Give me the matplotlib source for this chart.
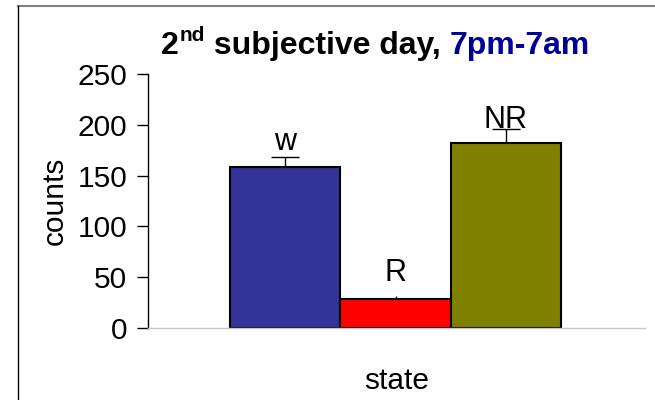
import matplotlib
matplotlib.use("Agg")
import matplotlib.pyplot as plt
from matplotlib.lines import Line2D

categories = ["w", "R", "NR"]
values = [158, 29, 182]
errors = [10, 2.5, 14]
label_values = [175, 46, 197]
colors = ["#333399", "#ff0000", "#808000"]

plt.rcParams['font.family'] = ['Liberation Sans', 'DejaVu Sans']

fig = plt.figure(figsize=(6.55, 4.0), dpi=100)
ax = fig.add_axes([148 / 655, 1 - 328 / 400, (645 - 148) / 655, (328 - 74) / 400])

x = [0, 1, 2]
ax.bar(x, values, width=1.0, color=colors, edgecolor="black", linewidth=1.5, zorder=2)
for xi, v, e in zip(x, values, errors):
    cs = 10 if e > 5 else 0
    ax.errorbar([xi], [v], yerr=[[0], [e]], fmt="none", ecolor="black",
                elinewidth=1, capsize=cs, capthick=1, zorder=1)
for xi, lab, ly in zip(x, categories, label_values):
    ax.text(xi, ly, lab, ha="center", va="baseline", fontsize=22, zorder=4)

ax.set_xlim(-1.243, 3.26)
ax.set_ylim(0, 250)
ax.set_yticks([0, 50, 100, 150, 200, 250])
ax.tick_params(axis="y", labelsize=21.5, length=8, width=1, direction="out", pad=7)
ax.set_xticks([])
for s in ["top", "right"]:
    ax.spines[s].set_visible(False)
ax.spines["bottom"].set_color("#c8c8c8")
ax.spines["bottom"].set_linewidth(1)
ax.spines["left"].set_linewidth(1)
ax.set_ylabel("counts", fontsize=21.5, labelpad=6)
ax.set_xlabel("state", fontsize=21.5, labelpad=28)

# Title made of pieces
fig.canvas.draw()
r = fig.canvas.get_renderer()
ty = 1 - 54 / 400
x0 = 161 / 655
t1 = fig.text(x0, ty, "2", fontsize=23, fontweight="bold", ha="left", va="baseline")
bb = t1.get_window_extent(r)
x1 = bb.x1 / fig.bbox.width
t2 = fig.text(x1 + 1 / 655, ty + 0.033, "nd", fontsize=15, fontweight="bold", ha="left", va="baseline")
bb = t2.get_window_extent(r)
x2 = bb.x1 / fig.bbox.width
t3 = fig.text(x2, ty, " subjective day, ", fontsize=23, fontweight="bold", ha="left", va="baseline")
bb = t3.get_window_extent(r)
x3 = bb.x1 / fig.bbox.width
fig.text(x3, ty, "7pm-7am", fontsize=23, fontweight="bold", color="#000099", ha="left", va="baseline")

# Frame lines
fig.add_artist(Line2D([18 / 655, 1.0], [1 - 6 / 400, 1 - 6 / 400], color="#808080", lw=1.5,
                      transform=fig.transFigure))
fig.add_artist(Line2D([18 / 655, 18 / 655], [0, 1 - 6 / 400], color="black", lw=1,
                      transform=fig.transFigure))

fig.savefig("out.png", dpi=100)
